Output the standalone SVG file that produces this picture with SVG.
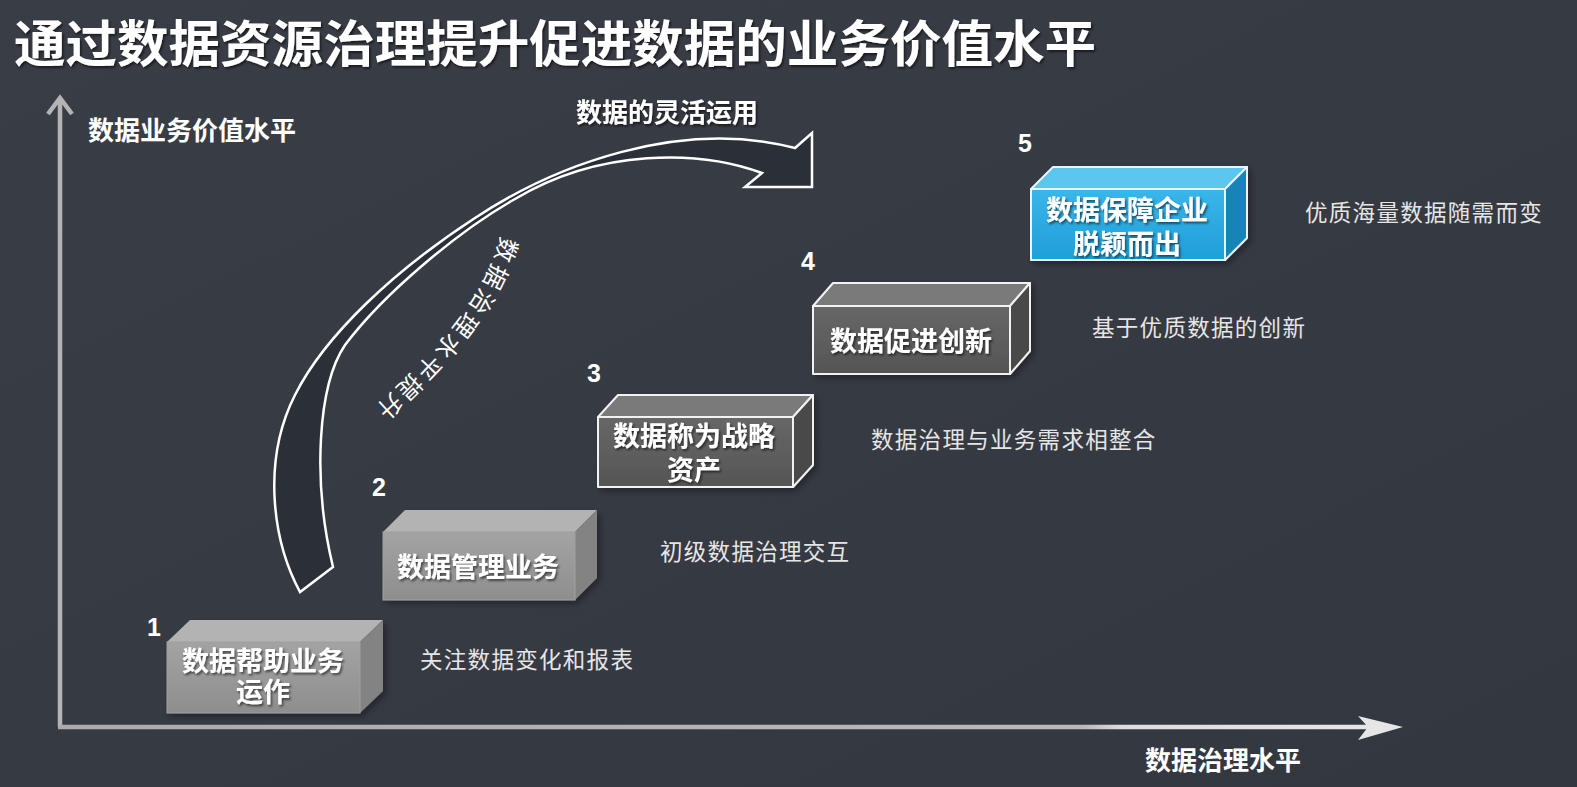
<svg xmlns="http://www.w3.org/2000/svg" width="1577" height="787" viewBox="0 0 1577 787">
<defs>
<style>
.t{font-family:"Noto Sans CJK SC","Liberation Sans",sans-serif}
.bold{font-weight:bold;fill:#ffffff}
.bt{font-family:"Noto Sans CJK SC",sans-serif;font-weight:bold;font-size:27px;fill:#ffffff;text-anchor:middle}
.num{font-family:"Liberation Sans","Noto Sans",sans-serif;font-weight:bold;font-size:25px;fill:#ffffff}
.desc{font-family:"Noto Sans CJK SC",sans-serif;font-size:22.5px;fill:#e6e6e6;letter-spacing:1.3px}
.ax{font-family:"Noto Sans CJK SC",sans-serif;font-weight:bold;font-size:26px;fill:#ffffff}
</style>
<linearGradient id="bg" x1="0" y1="0" x2="1" y2="1">
<stop offset="0" stop-color="#393d45"/>
<stop offset="1" stop-color="#33373f"/>
</linearGradient>
<linearGradient id="g1f" x1="0" y1="0" x2="0" y2="1">
<stop offset="0" stop-color="#a3a3a3"/>
<stop offset="1" stop-color="#8e8e8e"/>
</linearGradient>
<linearGradient id="g3f" x1="0" y1="0" x2="0" y2="1">
<stop offset="0" stop-color="#676767"/>
<stop offset="1" stop-color="#555555"/>
</linearGradient>
<linearGradient id="g5f" x1="0" y1="0" x2="0" y2="1">
<stop offset="0" stop-color="#3ab6ea"/>
<stop offset="1" stop-color="#1f9ed8"/>
</linearGradient>
<linearGradient id="xg" gradientUnits="userSpaceOnUse" x1="58" y1="0" x2="1372" y2="0">
<stop offset="0" stop-color="#ababab"/>
<stop offset="0.78" stop-color="#b9b9b9"/>
<stop offset="0.81" stop-color="#dedede"/>
<stop offset="1" stop-color="#e6e6e6"/>
</linearGradient>
<filter id="sh" x="-5%" y="-20%" width="110%" height="140%">
<feDropShadow dx="1.5" dy="2" stdDeviation="1" flood-color="#000000" flood-opacity="0.55"/>
</filter>
<filter id="bs" x="-10%" y="-10%" width="125%" height="130%">
<feDropShadow dx="3" dy="3" stdDeviation="3" flood-color="#000000" flood-opacity="0.35"/>
</filter>
</defs>
<rect width="1577" height="787" fill="url(#bg)"/>

<g id="title">
<text class="t bold" x="14" y="62" font-size="50" font-weight="900" textLength="1082" lengthAdjust="spacingAndGlyphs" filter="url(#sh)">通过数据资源治理提升促进数据的业务价值水平</text>
</g>

<g id="axes">
<line x1="60" y1="727" x2="60" y2="99" stroke="#b4b4b4" stroke-width="4.5"/>
<polyline points="48,114 60,98 72,114" fill="none" stroke="#b4b4b4" stroke-width="4.5" stroke-linejoin="miter"/>
<line x1="58" y1="727" x2="1372" y2="727" stroke="url(#xg)" stroke-width="4.5"/>
<polygon points="1403,727 1358,716 1368,727 1358,740" fill="#e6e6e6"/>
<text class="ax" x="88" y="140">数据业务价值水平</text>
<text class="ax" x="1145" y="770">数据治理水平</text>
</g>

<g id="connectors">
<path d="M 300 592 C 272 540, 262 460, 295 395 C 325 335, 395 270, 475 218 C 555 165, 680 118, 795 148 L 812 133 L 812 187 L 745 187 L 762 173 C 700 150, 600 148, 515 199 C 460 230, 385 292, 345 345 C 318 385, 312 480, 333 567 Z" fill="#2b2f37" stroke="#ffffff" stroke-width="2.5" stroke-linejoin="miter"/>
<text class="ax" x="667" y="122" text-anchor="middle" filter="url(#sh)">数据的灵活运用</text>
<path id="arcp" d="M 501 236 C 489 286, 454 338, 364 418" fill="none"/>
<text class="t" font-size="24" fill="#ffffff" letter-spacing="3.5"><textPath href="#arcp">数据治理水平提升</textPath></text>
</g>

<g id="node1">
<text class="num" x="147" y="636">1</text>
<g filter="url(#bs)">
<polygon points="167,642 190,620 383,620 360,642" fill="#b3b3b3"/>
<polygon points="360,642 383,620 383,691 360,713" fill="#838383"/>
<rect x="167" y="642" width="193" height="71" fill="url(#g1f)" stroke="#a0a0a0" stroke-width="1"/>
</g>
<text class="bt" filter="url(#sh)"><tspan x="263" y="671">数据帮助业务</tspan><tspan x="263" y="702">运作</tspan></text>
<text class="desc" x="420" y="668">关注数据变化和报表</text>
</g>

<g id="node2">
<text class="num" x="372" y="496">2</text>
<g filter="url(#bs)">
<polygon points="383,532 405,510 597,510 575,532" fill="#b3b3b3"/>
<polygon points="575,532 597,510 597,578 575,600" fill="#838383"/>
<rect x="383" y="532" width="192" height="68" fill="url(#g1f)" stroke="#a0a0a0" stroke-width="1"/>
</g>
<text class="bt" x="478" y="577" filter="url(#sh)">数据管理业务</text>
<text class="desc" x="660" y="560">初级数据治理交互</text>
</g>

<g id="node3">
<text class="num" x="587" y="382">3</text>
<g filter="url(#bs)" stroke="#f2f2f2" stroke-width="2" stroke-linejoin="round">
<polygon points="598,417 618,395 813,395 793,417" fill="#7a7a7a"/>
<polygon points="793,417 813,395 813,465 793,487" fill="#484848"/>
<rect x="598" y="417" width="195" height="70" fill="url(#g3f)"/>
</g>
<text class="bt" filter="url(#sh)"><tspan x="694" y="446">数据称为战略</tspan><tspan x="694" y="480">资产</tspan></text>
<text class="desc" x="871" y="448">数据治理与业务需求相整合</text>
</g>

<g id="node4">
<text class="num" x="801" y="270">4</text>
<g filter="url(#bs)" stroke="#f2f2f2" stroke-width="2" stroke-linejoin="round">
<polygon points="813,306 833,283 1030,283 1010,306" fill="#7a7a7a"/>
<polygon points="1010,306 1030,283 1030,351 1010,374" fill="#484848"/>
<rect x="813" y="306" width="197" height="68" fill="url(#g3f)"/>
</g>
<text class="bt" x="911" y="351" filter="url(#sh)">数据促进创新</text>
<text class="desc" x="1092" y="336">基于优质数据的创新</text>
</g>

<g id="node5">
<text class="num" x="1018" y="152">5</text>
<g filter="url(#bs)" stroke="#e8f7ff" stroke-width="2" stroke-linejoin="round">
<polygon points="1031,189 1053,167 1247,167 1225,189" fill="#5cc6f0"/>
<polygon points="1225,189 1247,167 1247,238 1225,260" fill="#1684b8"/>
<rect x="1031" y="189" width="194" height="71" fill="url(#g5f)"/>
</g>
<text class="bt" filter="url(#sh)"><tspan x="1127" y="220">数据保障企业</tspan><tspan x="1127" y="254">脱颖而出</tspan></text>
<text class="desc" x="1305" y="221">优质海量数据随需而变</text>
</g>
</svg>
